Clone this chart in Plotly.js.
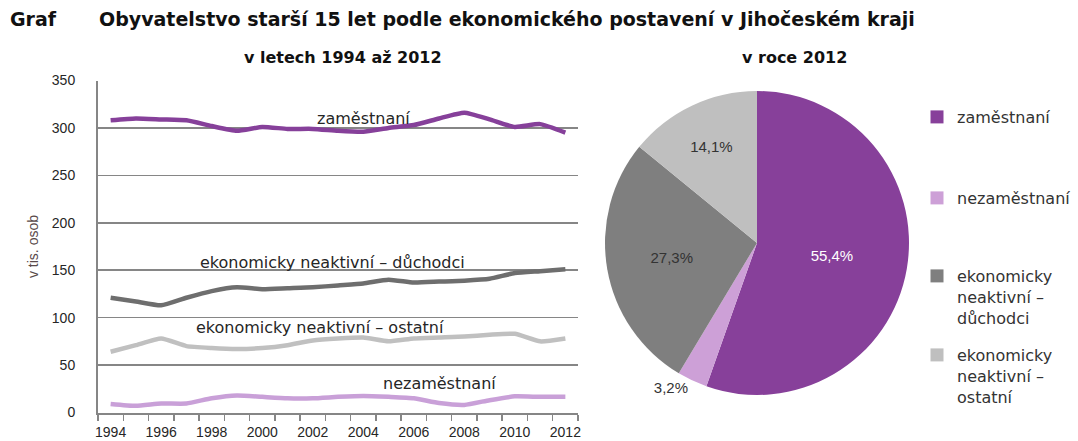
<!DOCTYPE html>
<html>
<head>
<meta charset="utf-8">
<script src="https://cdn.plot.ly/plotly-3.0.1.min.js"></script>
<style>html,body{margin:0;padding:0;background:#fff;}#chart{width:1078px;height:441px;}</style>
</head>
<body>
<div id="chart"></div>
<script>
// ---- data ----
const years = [1994,1995,1996,1997,1998,1999,2000,2001,2002,2003,2004,2005,2006,2007,2008,2009,2010,2011,2012];
const zamestnani   = [308,310,309,308,302,297,301,299,299,297,296,300,303,310,316,309,301,304,295];
const nezamestnani = [9,7,9.5,9.5,15,18,16.5,15,15,16.5,17.5,16.5,15,10,8,13,17,16.5,16.5];
const duchodci     = [121,117,113,121,128,132,130,131,132,134,136,140,137,138,139,141,147,149,151];
const ostatni      = [64,71,78,70,68,67,68,71,76,78,79,75,78,79,80,82,83,75,78];
const xTickYears   = [1994,1996,1998,2000,2002,2004,2006,2008,2010,2012];
const xTickLabels  = ['1994','1996','1998','2000','2002','2004','2006','2008','2010','2012'];
const seriesNames  = ['zaměstnaní','nezaměstnaní','ekonomicky neaktivní – důchodci','ekonomicky neaktivní – ostatní'];
const legendNames  = ['zaměstnaní','nezaměstnaní','ekonomicky<br>neaktivní –<br>důchodci','ekonomicky<br>neaktivní –<br>ostatní'];
const pieValues    = [55.4, 3.2, 27.3, 14.1];
const pieText      = pieValues.map(v => v.toFixed(1).replace('.', ',') + '%');

const lineColors = ['#86409A','#C9A0D8','#6E6E6E','#C0C0C0'];
const pieColors  = ['#87409A','#CDA0D7','#7F7F7F','#BFBFBF'];
const FONT = 'Liberation Sans, Arial, sans-serif';
const WFONT = 'DejaVu Sans, Verdana, sans-serif';

const seriesData = [zamestnani, nezamestnani, duchodci, ostatni];
const traces = seriesData.map((ys, i) => ({
  type: 'scatter', mode: 'lines', x: years, y: ys, name: seriesNames[i],
  line: {color: lineColors[i], width: 4.5, shape: 'spline', smoothing: 0.5},
  showlegend: false, hoverinfo: 'x+y+name'
}));

traces.push({
  type: 'pie', values: pieValues, labels: seriesNames, text: pieText,
  texttemplate: '%{text}', textinfo: 'text',
  textposition: ['inside','outside','inside','inside'],
  insidetextorientation: 'horizontal',
  textfont: {family: FONT, size: 15, color: ['#ffffff','#333333','#333333','#333333']},
  outsidetextfont: {family: FONT, size: 15, color: '#333333'},
  sort: false, direction: 'clockwise', rotation: 0,
  marker: {colors: pieColors, line: {width: 0}},
  domain: {x: [605/1078, 909/1078], y: [1-395/441, 1-91/441]},
  showlegend: false, hoverinfo: 'label+percent'
});

// legend entries (one legend per item, to place them like the original)
const legendIds = ['legend','legend2','legend3','legend4'];
legendNames.forEach((n, i) => {
  traces.push({type: 'scatter', mode: 'markers', x: [null], y: [null], name: n,
    marker: {symbol: 'square', size: 13, color: pieColors[i]},
    showlegend: true, legend: legendIds[i], hoverinfo: 'skip'});
});

const legendTops = [100, 181, 259, 338];
const legendBase = {
  x: 917/1078, xanchor: 'left', yanchor: 'top', valign: 'top',
  bgcolor: 'rgba(0,0,0,0)', borderwidth: 0,
  font: {family: WFONT, size: 16, color: '#333333'},
  itemclick: false, itemdoubleclick: false
};
const labelFont = {family: WFONT, size: 16, color: '#262626'};
const layout = {
  width: 1078, height: 441,
  margin: {l: 0, r: 0, t: 0, b: 0},
  paper_bgcolor: '#ffffff', plot_bgcolor: '#ffffff',
  font: {family: FONT, color: '#262626'},
  xaxis: {
    type: 'linear', range: [1993.5, 2012.5], domain: [98/1078, 578/1078],
    tickmode: 'array', tickvals: xTickYears, ticktext: xTickLabels,
    ticks: '', showgrid: false, zeroline: false,
    showline: true, linecolor: '#868686', linewidth: 2,
    tickfont: {family: FONT, size: 14, color: '#262626'},
    ticklabelstandoff: 6,
    minor: {ticks: 'outside', ticklen: 6, tickwidth: 1.5, tickcolor: '#868686',
            tickmode: 'linear', tick0: 1993.5, dtick: 1, showgrid: false},
    fixedrange: true
  },
  yaxis: {
    range: [0, 350], domain: [1-412.5/441, 1-80.5/441],
    tickmode: 'linear', tick0: 0, dtick: 50,
    showgrid: true, gridcolor: '#868686', gridwidth: 1.5,
    zeroline: false, showline: true, linecolor: '#868686', linewidth: 2,
    ticks: '', ticklabelstandoff: 18,
    tickfont: {family: FONT, size: 14, color: '#262626'},
    title: {text: 'v tis. osob', standoff: 10, font: {family: FONT, size: 14, color: '#5a4a4a'}},
    fixedrange: true
  },
  showlegend: true,
  annotations: [
    {xref: 'paper', yref: 'paper', x: 8/1078, y: 1-19/441, xanchor: 'left', yanchor: 'middle',
     text: '<b>Graf</b>', showarrow: false, font: {family: WFONT, size: 19, color: '#111'}},
    {xref: 'paper', yref: 'paper', x: 97/1078, y: 1-19/441, xanchor: 'left', yanchor: 'middle',
     text: '<b>Obyvatelstvo starší 15 let podle ekonomického postavení v Jihočeském kraji</b>',
     showarrow: false, font: {family: WFONT, size: 19, color: '#111'}},
    {xref: 'paper', yref: 'paper', x: 343/1078, y: 1-58/441, xanchor: 'center', yanchor: 'middle',
     text: '<b>v letech 1994 až 2012</b>', showarrow: false, font: {family: WFONT, size: 16, color: '#111'}},
    {xref: 'paper', yref: 'paper', x: 794/1078, y: 1-58/441, xanchor: 'center', yanchor: 'middle',
     text: '<b>v roce 2012</b>', showarrow: false, font: {family: WFONT, size: 16, color: '#111'}},
    {xref: 'x', yref: 'y', x: 2004, y: 310, text: seriesNames[0], showarrow: false, font: labelFont},
    {xref: 'x', yref: 'y', x: 2002.8, y: 158.5, text: seriesNames[2], showarrow: false, font: labelFont},
    {xref: 'x', yref: 'y', x: 2002.3, y: 90, text: seriesNames[3], showarrow: false, font: labelFont},
    {xref: 'x', yref: 'y', x: 2007, y: 31, text: seriesNames[1], showarrow: false, font: labelFont}
  ]
};
legendIds.forEach((id, i) => {
  layout[id] = Object.assign({}, legendBase, {y: 1 - legendTops[i]/441});
});

Plotly.newPlot('chart', traces, layout, {staticPlot: true, displayModeBar: false});
</script>
</body>
</html>
